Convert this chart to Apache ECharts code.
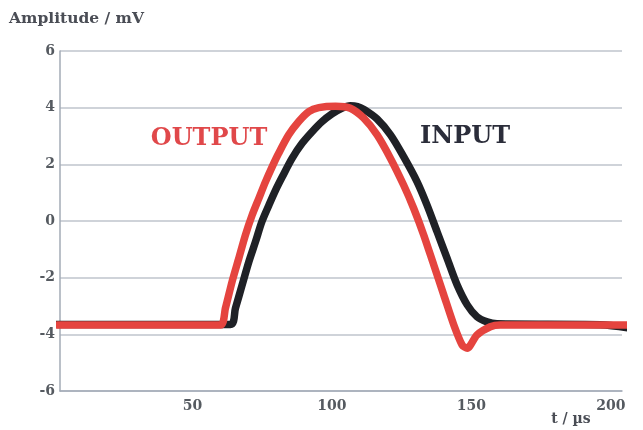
<!DOCTYPE html>
<html>
<head>
<meta charset="utf-8">
<script src="https://cdn.jsdelivr.net/npm/echarts@6/dist/echarts.min.js"></script>
<style>html,body{margin:0;padding:0;background:#fff}#c{width:643px;height:430px}</style>
</head>
<body>
<div id="c"></div>
<script>
var xTickValues = [50, 100, 150, 200];
var yTickLabels = ['-6', '-4', '-2', '0', '2', '4', '6'];

var outputX = [1.6, 60.0, 61.8, 64.2, 66.6, 69.0, 71.4, 73.8, 76.2, 78.6, 80.9, 84.5, 88.1, 91.7, 95.3, 101.3, 106.6, 111.4, 116.2, 121.0, 125.7, 129.3, 132.9, 136.5, 140.1, 143.7, 146.7, 148.5, 152.0, 156.8, 160.4, 211.6];
var outputY = [-3.67, -3.67, -3.08, -2.14, -1.32, -0.49, 0.21, 0.80, 1.39, 1.92, 2.39, 3.04, 3.51, 3.86, 4.00, 4.05, 3.98, 3.63, 3.04, 2.21, 1.27, 0.45, -0.49, -1.55, -2.61, -3.67, -4.38, -4.49, -4.02, -3.73, -3.67, -3.67];

var inputX = [1.6, 63.6, 65.4, 67.8, 70.2, 72.6, 74.9, 77.4, 79.8, 82.2, 85.7, 89.3, 92.9, 96.5, 100.0, 103.5, 106.6, 109.2, 111.6, 116.2, 121.0, 125.7, 130.5, 134.1, 137.7, 141.3, 144.9, 148.5, 152.0, 155.6, 159.2, 196.2, 210.5];
var inputY = [-3.65, -3.65, -3.08, -2.26, -1.44, -0.73, -0.02, 0.56, 1.09, 1.56, 2.21, 2.74, 3.15, 3.51, 3.78, 3.98, 4.07, 4.04, 3.93, 3.60, 3.04, 2.27, 1.39, 0.56, -0.38, -1.32, -2.26, -2.96, -3.38, -3.56, -3.63, -3.66, -3.84];

function pairs(xs, ys) { return xs.map(function (x, i) { return [x, ys[i]]; }); }

var chart = echarts.init(document.getElementById('c'), null, { renderer: 'canvas' });
var labelFont = { fontFamily: 'DejaVu Serif', fontWeight: 'bold', fontSize: 14, color: '#555a60' };
chart.setOption({
  animation: false,
  backgroundColor: '#ffffff',
  grid: { left: 60, right: 21, top: 51, bottom: 39, containLabel: false },
  xAxis: {
    type: 'value', min: 2.5, max: 204,
    axisLine: { show: true, onZero: false, lineStyle: { color: '#a3abb6', width: 1.5 } },
    axisTick: { show: false },
    splitLine: { show: false },
    axisLabel: Object.assign({ customValues: xTickValues, margin: 8 }, labelFont)
  },
  yAxis: {
    type: 'value', min: -6, max: 6, interval: 2,
    axisLine: { show: true, onZero: false, lineStyle: { color: '#a3abb6', width: 1.5 } },
    axisTick: { show: false },
    splitLine: { show: true, lineStyle: { color: '#bfc5cd', width: 1.5 } },
    axisLabel: Object.assign({ margin: 5, padding: [0, 0, 11, 0], formatter: function (v) { return yTickLabels[(v + 6) / 2]; } }, labelFont)
  },
  series: [
    { name: 'INPUT', type: 'line', data: pairs(inputX, inputY), showSymbol: false, smooth: 0.3, clip: false,
      lineStyle: { color: '#1f2126', width: 7.5, cap: 'round', join: 'round' }, z: 2 },
    { name: 'OUTPUT', type: 'line', data: pairs(outputX, outputY), showSymbol: false, smooth: 0.25, clip: false,
      lineStyle: { color: '#e5443f', width: 7.5, cap: 'round', join: 'round' }, z: 3 }
  ],
  graphic: [
    { type: 'text', left: 9, top: 11, style: { text: 'Amplitude / mV', fontFamily: 'DejaVu Serif', fontWeight: 'bold', fontSize: 15.5, fill: '#4a4d55' } },
    { type: 'text', x: 571, y: 419, style: { text: 't / µs', fontFamily: 'DejaVu Serif', fontWeight: 'bold', fontSize: 14, fill: '#4a4d55', align: 'center', verticalAlign: 'middle' } },
    { type: 'text', x: 209, y: 139, style: { text: 'OUTPUT', fontFamily: 'DejaVu Serif', fontWeight: 'bold', fontSize: 24, fill: '#e0484a', align: 'center', verticalAlign: 'middle' } },
    { type: 'text', x: 465, y: 137, style: { text: 'INPUT', fontFamily: 'DejaVu Serif', fontWeight: 'bold', fontSize: 24, fill: '#2b2d3a', align: 'center', verticalAlign: 'middle' } }
  ]
});
</script>
</body>
</html>
